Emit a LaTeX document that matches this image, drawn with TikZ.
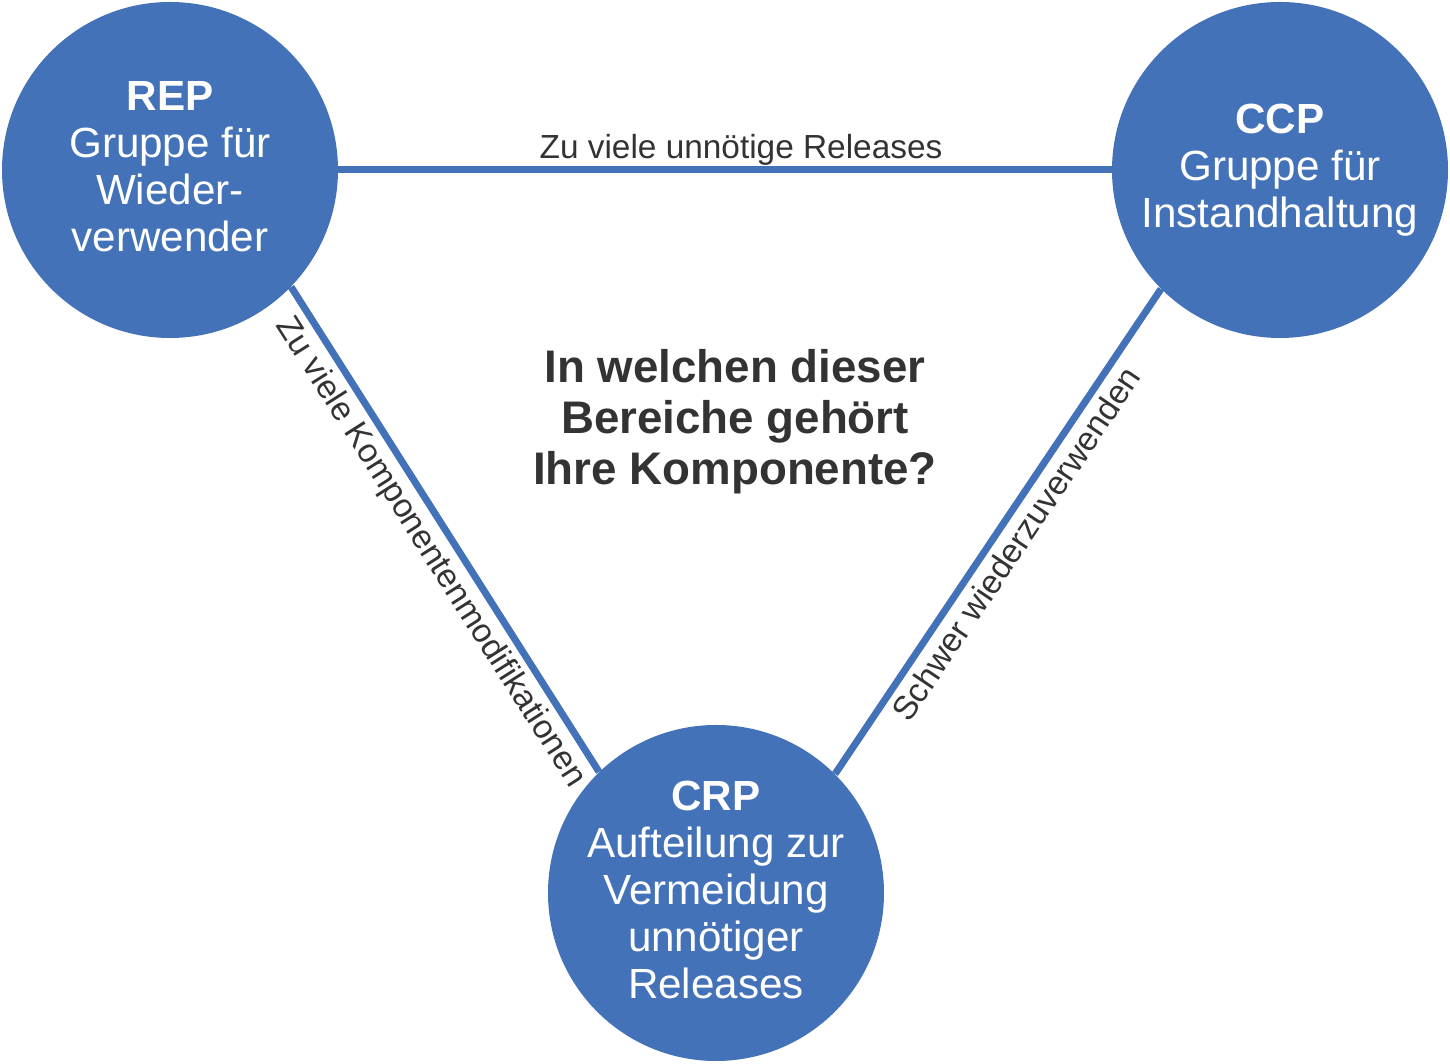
\documentclass[tikz,border=0pt]{standalone}
\usepackage{fontspec}
\setmainfont{Liberation Sans}
\definecolor{prinzblau}{RGB}{68,114,184}
\definecolor{fragegrau}{RGB}{51,51,51}

\begin{document}
\begin{tikzpicture}[
    prinzip/.style={circle, fill=prinzblau, draw=none, minimum size=6.72cm, inner sep=0pt},
    prinztext/.style={text=white, align=center, font=\fontsize{24}{26.7}\selectfont},
    kante/.style={draw=prinzblau, line width=4pt},
    kantentext/.style={font=\fontsize{19}{22}\selectfont, text=fragegrau}]
    \useasboundingbox (0,0) rectangle (29,21.28);
    % die drei Prinzipien
    \node[prinzip] (rep) at (3.4,17.88) {};
    \node[prinzip] (ccp) at (25.6,17.88) {};
    \node[prinzip] (crp) at (14.32,3.42) {};
    % Spannungsfeld zwischen den Prinzipien
    \draw[kante] (rep.east) -- node[above, kantentext, xshift=0.32cm, yshift=-0.1cm] {Zu viele unnötige Releases} (ccp.west);
    \draw[kante] (rep.-44) -- node[sloped, below, kantentext, pos=0.52] {Zu viele Komponentenmodifikationen} (crp.134);
    \draw[kante] (crp.45) -- node[sloped, below, kantentext] {Schwer wiederzuverwenden} (ccp.225);
    \node[prinztext] (reptext) at ([yshift=0.06cm]rep) {\textbf{REP}\\Gruppe für\\Wieder-\\verwender};
    \node[prinztext] (ccptext) at (ccp) {\textbf{CCP}\\Gruppe für\\Instandhaltung};
    \node[prinztext] (crptext) at ([yshift=0.06cm]crp) {\textbf{CRP}\\Aufteilung zur\\Vermeidung\\unnötiger\\Releases};
    \node[align=center, text=fragegrau, font=\bfseries\fontsize{26}{29}\selectfont] (frage) at (14.7,12.84)
        {In welchen dieser\\Bereiche gehört\\Ihre Komponente?};
\end{tikzpicture}
\end{document}
